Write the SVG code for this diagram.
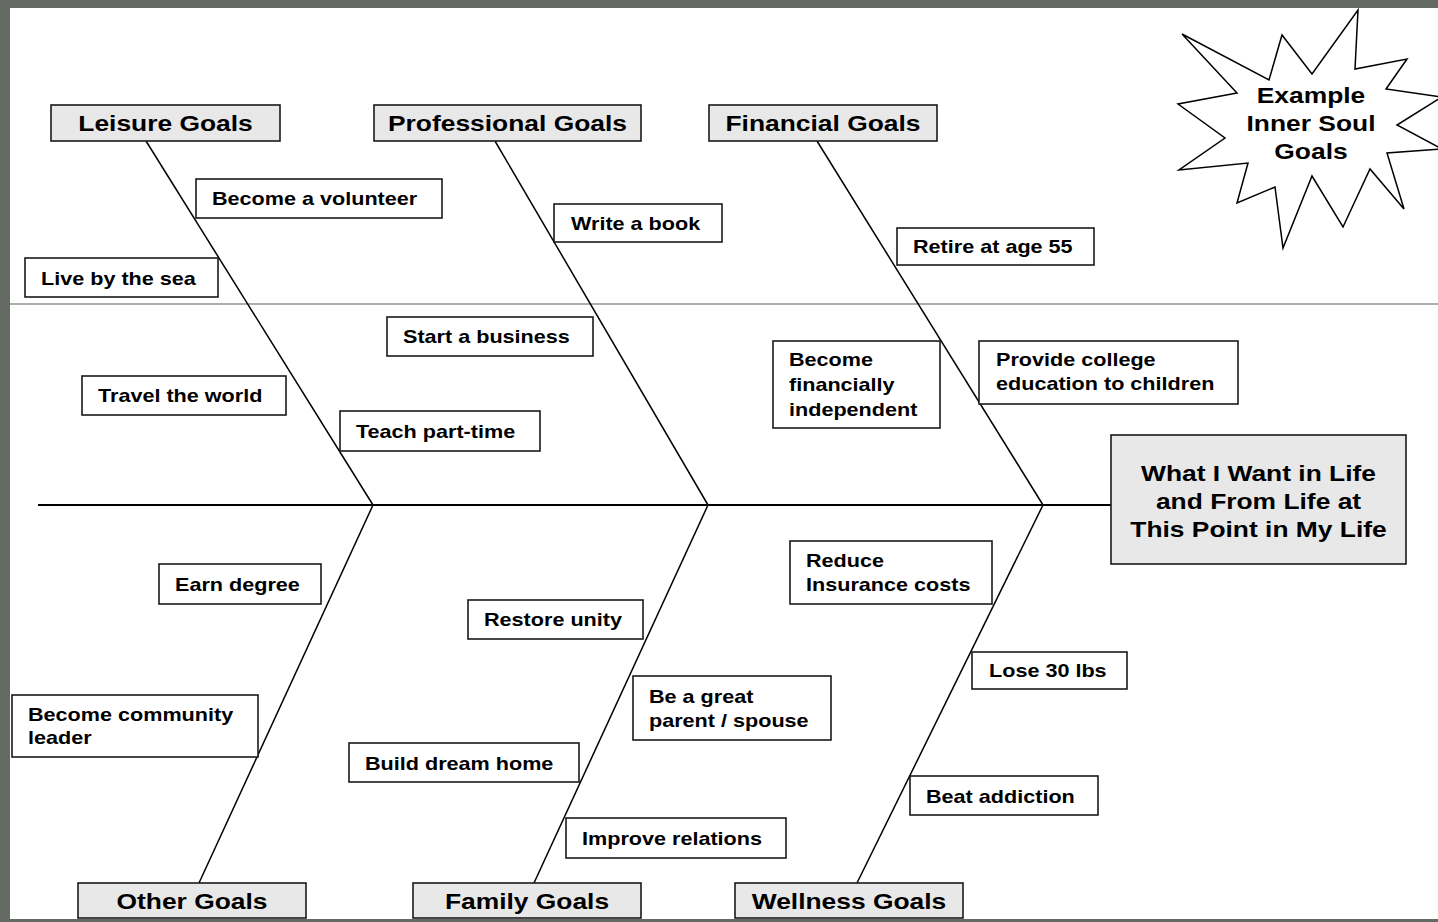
<svg xmlns="http://www.w3.org/2000/svg" width="1438" height="922" viewBox="0 0 1438 922">
<style>
.bg{fill:#656b64}
.sheet{fill:#ffffff}
.box{fill:#ffffff;stroke:#1a1a1a;stroke-width:1.6}
.hdr{fill:#e8e8e8;stroke:#1a1a1a;stroke-width:1.6}
.t{font-family:"Liberation Sans",Arial,sans-serif;font-weight:bold;font-size:18px;fill:#000}
.h{font-size:22px}
.c{text-anchor:middle}
.bone{stroke:#000;stroke-width:1.5;fill:none}
.spine{stroke:#000;stroke-width:2.2;fill:none}
.rule{stroke:#5a605a;stroke-width:1.2}
.star{fill:#fff;stroke:#000;stroke-width:1.5;stroke-linejoin:miter}
</style>
<rect class="bg" x="0" y="0" width="1438" height="922"/>
<rect class="sheet" x="10" y="8" width="1428" height="911"/>
<line class="rule" x1="10" y1="304" x2="1438" y2="304"/>

<g id="connectors">
<line class="spine" x1="38" y1="505" x2="1111" y2="505"/>
<line class="bone" x1="146" y1="141" x2="373" y2="505"/>
<line class="bone" x1="495" y1="141" x2="708" y2="505"/>
<line class="bone" x1="817" y1="141" x2="1043" y2="505"/>
<line class="bone" x1="373" y1="505" x2="199" y2="883"/>
<line class="bone" x1="708" y1="505" x2="534" y2="883"/>
<line class="bone" x1="1043" y1="505" x2="857" y2="883"/>
</g>

<g id="starburst">
<polygon class="star" points="1358,10 1355,69 1407,59 1386,89 1442,97 1397,125 1442,149 1387,153 1404,209 1370,169 1343,227 1312,176 1283,248 1275,187 1237,203 1248,163 1179,170 1225,138 1178,104 1237,93 1182,34 1269,80 1282,35 1312,74"/>
<text class="t h c" transform="translate(1311,103) scale(1.2,1)">Example</text>
<text class="t h c" transform="translate(1311,131) scale(1.2,1)">Inner Soul</text>
<text class="t h c" transform="translate(1311,159) scale(1.2,1)">Goals</text>
</g>

<g id="hdr-leisure"><rect class="hdr" x="51" y="105" width="229" height="36"/><text class="t h c" transform="translate(165.5,131) scale(1.2,1)">Leisure Goals</text></g>
<g id="hdr-professional"><rect class="hdr" x="374" y="105" width="267" height="36"/><text class="t h c" transform="translate(507.5,131) scale(1.2,1)">Professional Goals</text></g>
<g id="hdr-financial"><rect class="hdr" x="709" y="105" width="228" height="36"/><text class="t h c" transform="translate(823,131) scale(1.2,1)">Financial Goals</text></g>
<g id="hdr-other"><rect class="hdr" x="78" y="883" width="228" height="35"/><text class="t h c" transform="translate(192,909) scale(1.2,1)">Other Goals</text></g>
<g id="hdr-family"><rect class="hdr" x="413" y="883" width="228" height="35"/><text class="t h c" transform="translate(527,909) scale(1.2,1)">Family Goals</text></g>
<g id="hdr-wellness"><rect class="hdr" x="735" y="883" width="228" height="35"/><text class="t h c" transform="translate(849,909) scale(1.2,1)">Wellness Goals</text></g>

<g id="head">
<rect class="hdr" x="1111" y="435" width="295" height="129"/>
<text class="t h c" transform="translate(1258.5,481) scale(1.2,1)">What I Want in Life</text>
<text class="t h c" transform="translate(1258.5,509) scale(1.2,1)">and From Life at</text>
<text class="t h c" transform="translate(1258.5,537) scale(1.2,1)">This Point in My Life</text>
</g>

<g id="n-volunteer"><rect class="box" x="196" y="179" width="246" height="39"/><text class="t" transform="translate(212,205) scale(1.2,1)">Become a volunteer</text></g>
<g id="n-book"><rect class="box" x="554" y="204" width="168" height="38"/><text class="t" transform="translate(571,230) scale(1.2,1)">Write a book</text></g>
<g id="n-retire"><rect class="box" x="897" y="228" width="197" height="37"/><text class="t" transform="translate(913,253) scale(1.2,1)">Retire at age 55</text></g>
<g id="n-sea"><rect class="box" x="25" y="258" width="193" height="39"/><text class="t" transform="translate(41,285) scale(1.2,1)">Live by the sea</text></g>
<g id="n-business"><rect class="box" x="387" y="317" width="206" height="39"/><text class="t" transform="translate(403,343) scale(1.2,1)">Start a business</text></g>
<g id="n-independent"><rect class="box" x="773" y="341" width="167" height="87"/>
<text class="t" transform="translate(789,366) scale(1.2,1)">Become</text>
<text class="t" transform="translate(789,391) scale(1.2,1)">financially</text>
<text class="t" transform="translate(789,416) scale(1.2,1)">independent</text></g>
<g id="n-college"><rect class="box" x="979" y="341" width="259" height="63"/>
<text class="t" transform="translate(996,366) scale(1.2,1)">Provide college</text>
<text class="t" transform="translate(996,390) scale(1.2,1)">education to children</text></g>
<g id="n-travel"><rect class="box" x="82" y="376" width="204" height="39"/><text class="t" transform="translate(98,402) scale(1.2,1)">Travel the world</text></g>
<g id="n-teach"><rect class="box" x="340" y="411" width="200" height="40"/><text class="t" transform="translate(356,438) scale(1.2,1)">Teach part-time</text></g>
<g id="n-degree"><rect class="box" x="159" y="564" width="162" height="40"/><text class="t" transform="translate(175,591) scale(1.2,1)">Earn degree</text></g>
<g id="n-insurance"><rect class="box" x="790" y="541" width="202" height="63"/>
<text class="t" transform="translate(806,567) scale(1.2,1)">Reduce</text>
<text class="t" transform="translate(806,591) scale(1.2,1)">Insurance costs</text></g>
<g id="n-unity"><rect class="box" x="468" y="600" width="175" height="39"/><text class="t" transform="translate(484,626) scale(1.2,1)">Restore unity</text></g>
<g id="n-lose"><rect class="box" x="972" y="652" width="155" height="37"/><text class="t" transform="translate(989,677) scale(1.2,1)">Lose 30 lbs</text></g>
<g id="n-parent"><rect class="box" x="633" y="676" width="198" height="64"/>
<text class="t" transform="translate(649,703) scale(1.2,1)">Be a great</text>
<text class="t" transform="translate(649,727) scale(1.2,1)">parent / spouse</text></g>
<g id="n-community"><rect class="box" x="12" y="695" width="246" height="62"/>
<text class="t" transform="translate(28,721) scale(1.2,1)">Become community</text>
<text class="t" transform="translate(28,744) scale(1.2,1)">leader</text></g>
<g id="n-home"><rect class="box" x="349" y="743" width="230" height="39"/><text class="t" transform="translate(365,770) scale(1.2,1)">Build dream home</text></g>
<g id="n-addiction"><rect class="box" x="910" y="776" width="188" height="39"/><text class="t" transform="translate(926,803) scale(1.2,1)">Beat addiction</text></g>
<g id="n-relations"><rect class="box" x="566" y="818" width="220" height="40"/><text class="t" transform="translate(582,845) scale(1.2,1)">Improve relations</text></g>
</svg>
